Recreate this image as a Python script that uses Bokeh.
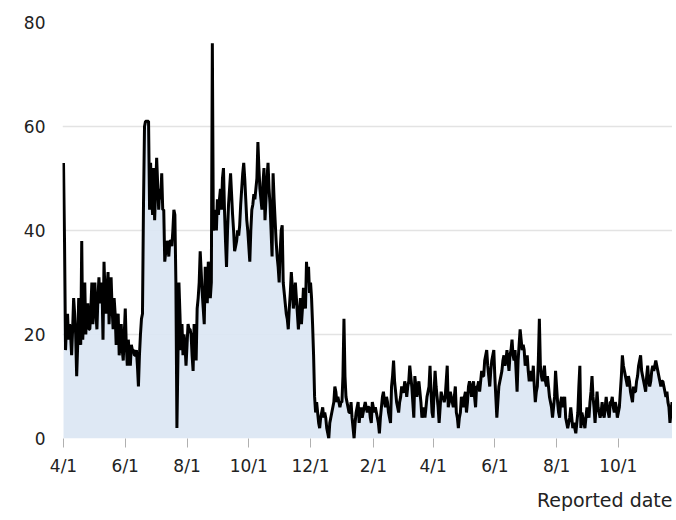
import pandas as pd
from bokeh.plotting import figure
from bokeh.models import Range1d, FixedTicker, Title
from bokeh.embed import file_html
from bokeh.resources import INLINE

start_date = "2020-04-01"

apr20 = [53,38,17,22,24,19,22,20,16,21,27,24,20,12,18,27,22,18,38,19,24,30,20,25,26,21,21,25,30,22]
may20 = [26,30,24,21,27,31,26,28,30,19,34,28,24,29,32,22,27,31,25,21,27,24,18,21,24,16,19,22,17,15,20]
jun20 = [25,18,14,19,16,14,18,17,17,16,16,17,14,10,16,20,23,24,45,60,61,61,61,61,44,53,47,43,52,42]
jul20 = [48,54,49,44,48,46,51,44,44,34,36,38,37,35,38,38,37,40,44,43,30,2,15,30,24,17,22,16,20,18,14]
aug20 = [18,22,21,21,20,16,13,22,19,15,25,27,30,36,32,28,25,22,33,30,26,34,31,27,30,76,40,42,44,40,46]
sep20 = [43,46,48,44,50,52,44,38,33,40,45,48,51,47,43,40,36,37,38,40,39,41,45,48,51,53,50,46,42,40]
oct20 = [37,34,40,44,45,47,46,48,50,57,52,48,46,44,49,52,42,46,50,53,48,45,40,35,51,46,42,38,35,33,30]
nov20 = [36,40,41,30,28,26,24,23,21,25,28,32,29,25,27,30,27,24,21,24,27,22,25,29,27,25,34,30,33,28]
dec20 = [30,27,22,16,8,5,7,5,3,2,4,5,6,4,5,4,2,1,0,3,4,5,6,7,10,9,7,8,7,6,7]
jan21 = [7,12,23,12,8,7,6,5,5,7,4,2,0,3,5,6,7,3,5,6,4,5,6,7,6,5,6,6,4,3,7]
feb21 = [6,5,6,5,4,3,1,4,6,8,9,7,6,8,7,5,4,3,10,12,15,11,9,7,6,5,7,8]
mar21 = [10,9,9,11,10,8,10,11,14,12,10,7,4,12,10,8,10,11,9,7,4,5,6,4,6,8,9,10,14,9,5]
apr21 = [4,9,13,10,8,6,3,6,9,8,8,7,8,11,14,6,7,9,8,7,6,8,10,5,4,2,4,5,8,7]
may21 = [6,8,9,5,7,10,11,10,8,10,11,8,6,10,10,11,9,11,13,12,12,15,16,17,14,12,10,13,15,16,17]
jun21 = [12,8,4,7,10,11,12,13,15,16,14,15,17,15,13,16,17,19,16,15,17,13,9,15,18,21,19,17,18,17]
jul21 = [14,15,16,13,11,13,12,11,14,10,7,9,10,15,23,14,12,11,12,14,11,10,12,10,8,7,6,4,6,8,13]
aug21 = [10,7,5,4,7,8,6,7,8,4,3,2,3,4,6,4,2,3,2,1,3,5,10,14,2,5,4,3,2,4,6]
sep21 = [5,4,7,9,12,8,6,3,6,9,6,5,4,5,7,5,4,6,8,6,5,4,7,7,8,6,5,7,6,4]
oct21 = [5,6,9,12,16,14,13,12,11,10,12,11,9,8,7,10,9,9,11,12,14,15,16,13,12,11,10,9,12,14,11]
nov21 = [10,11,13,14,13,14,15,14,13,12,11,10,11,11,10,9,8,9,7,6,3,5,7]

tick_dates = ["2020-04-01", "2020-06-01", "2020-08-01", "2020-10-01", "2020-12-01",
              "2021-02-01", "2021-04-01", "2021-06-01", "2021-08-01", "2021-10-01"]
tick_labels = ["4/1", "6/1", "8/1", "10/1", "12/1", "2/1", "4/1", "6/1", "8/1", "10/1"]
y_ticks = [0, 20, 40, 60, 80]
x_title = "Reported date"

values = (apr20 + may20 + jun20 + jul20 + aug20 + sep20 + oct20 + nov20 + dec20 +
          jan21 + feb21 + mar21 + apr21 + may21 + jun21 + jul21 + aug21 + sep21 +
          oct21 + nov21)
dates = pd.date_range(start_date, periods=len(values), freq="D")
x = [int(v) for v in (dates - dates[0]).days]
tick_x = [int((pd.Timestamp(t) - dates[0]).days) for t in tick_dates]

FONT = "DejaVu Sans"

p = figure(width=672, height=520, output_backend="svg", toolbar_location=None,
           x_range=Range1d(-1, len(values) - 0.5), y_range=Range1d(0, 80),
           min_border_left=62, min_border_right=0, min_border_top=22,
           min_border_bottom=82)
p.outline_line_color = None

p.varea(x=x, y1=0, y2=values, fill_color="#dbe6f3", fill_alpha=0.92)
p.line(x, values, line_color="black", line_width=3)

p.xgrid.grid_line_color = None
p.ygrid.grid_line_color = "#e3e3e3"
p.ygrid.grid_line_width = 1.5

p.yaxis.ticker = FixedTicker(ticks=y_ticks)
p.yaxis.axis_line_color = None
p.yaxis.major_tick_line_color = None
p.yaxis.minor_tick_line_color = None
p.yaxis.major_tick_out = 0
p.yaxis.major_tick_in = 0
p.yaxis.major_label_standoff = 17
p.yaxis.major_label_text_font = FONT
p.yaxis.major_label_text_font_size = "17px"
p.yaxis.major_label_text_color = "#222222"

p.xaxis.ticker = FixedTicker(ticks=tick_x)
p.xaxis.major_label_overrides = dict(zip(tick_x, tick_labels))
p.xaxis.axis_line_color = None
p.xaxis.minor_tick_line_color = None
p.xaxis.major_tick_line_color = "#b0b0b0"
p.xaxis.major_tick_out = 9
p.xaxis.major_tick_in = 0
p.xaxis.major_label_standoff = 8
p.xaxis.major_label_text_font = FONT
p.xaxis.major_label_text_font_size = "17px"
p.xaxis.major_label_text_color = "#222222"

t = Title(text=x_title, align="right", text_font=FONT, text_font_size="19px",
          text_font_style="normal", text_color="#222222", standoff=17)
p.add_layout(t, "below")

open("out.html", "w").write(file_html(p, INLINE))
